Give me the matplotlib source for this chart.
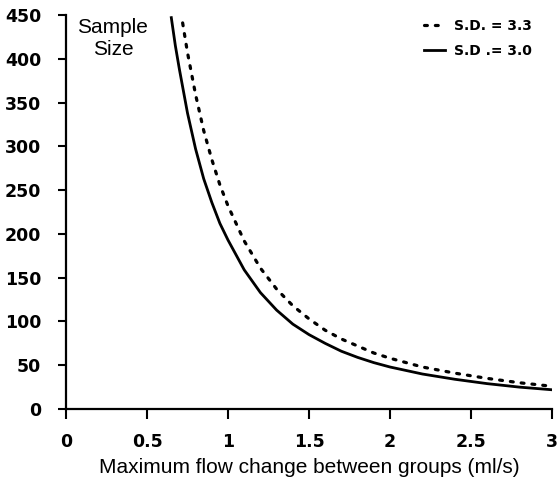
import matplotlib
matplotlib.use("Agg")
import matplotlib.pyplot as plt

# Data
flow_change = [0.65, 0.675, 0.7, 0.75, 0.8, 0.85, 0.9, 0.95, 1.0, 1.1, 1.2, 1.3, 1.4, 1.5, 1.6,
               1.7, 1.8, 1.9, 2.0, 2.2, 2.4, 2.6, 2.8, 3.0]
n_sd30 = [447, 415, 388, 338, 297, 263, 236, 212, 193, 159, 133, 113, 97, 85, 75,
          66, 59, 53, 48, 40, 34, 29, 25, 22]

flow_change_33 = [0.72, 0.75, 0.8, 0.85, 0.9, 0.95, 1.0, 1.1, 1.2, 1.3, 1.4, 1.5, 1.6, 1.7,
                  1.8, 1.9, 2.0, 2.2, 2.4, 2.6, 2.8, 3.0]
n_sd33 = [441, 407, 359, 318, 285, 256, 232, 192, 161, 137, 118, 103, 90, 80,
          72, 64, 58, 48, 41, 35, 30, 26]

x_ticks = [0, 0.5, 1, 1.5, 2, 2.5, 3]
x_tick_labels = ["0", "0.5", "1", "1.5", "2", "2.5", "3"]
y_ticks = [0, 50, 100, 150, 200, 250, 300, 350, 400, 450]

plt.rcParams['font.family'] = ['Liberation Sans', 'DejaVu Sans']

fig = plt.figure(figsize=(5.57, 4.94), dpi=100)
ax = fig.add_axes([0.1185, 0.172, 0.8725, 0.7976])

l33, = ax.plot(flow_change_33, n_sd33, color='black', lw=2.3,
               linestyle=(0, (0.9, 2.5)), dash_capstyle='round', label='S.D. = 3.3')
l30, = ax.plot(flow_change, n_sd30, color='black', lw=2.0, label='S.D .= 3.0')

ax.set_xlim(0, 3)
ax.set_ylim(0, 450)
ax.set_xticks(x_ticks)
ax.set_xticklabels(x_tick_labels)
ax.set_yticks(y_ticks)

for s in ['top', 'right']:
    ax.spines[s].set_visible(False)
for s in ['left', 'bottom']:
    ax.spines[s].set_linewidth(1.6)

ax.tick_params(axis='both', direction='out', width=1.5)
ax.tick_params(axis='y', length=6, pad=12)
ax.tick_params(axis='x', length=7, pad=10)
for lab in ax.get_xticklabels() + ax.get_yticklabels():
    lab.set_fontweight('bold')
    lab.set_fontfamily(['DejaVu Sans'])
    lab.set_fontsize(12.5)

ax.set_xlabel("Maximum flow change between groups (ml/s)", fontsize=15, labelpad=5)

ax.text(0.29, 447, "Sample\nSize", fontsize=15, ha='center', va='top', linespacing=1.2)

leg = ax.legend(handles=[l33, l30], loc='upper right', bbox_to_anchor=(0.985, 1.022),
                frameon=False, handlelength=1.5, handletextpad=0.7, labelspacing=0.8,
                prop={'weight': 'bold', 'size': 10, 'family': ['DejaVu Sans']})

fig.savefig("out.png", dpi=100)
